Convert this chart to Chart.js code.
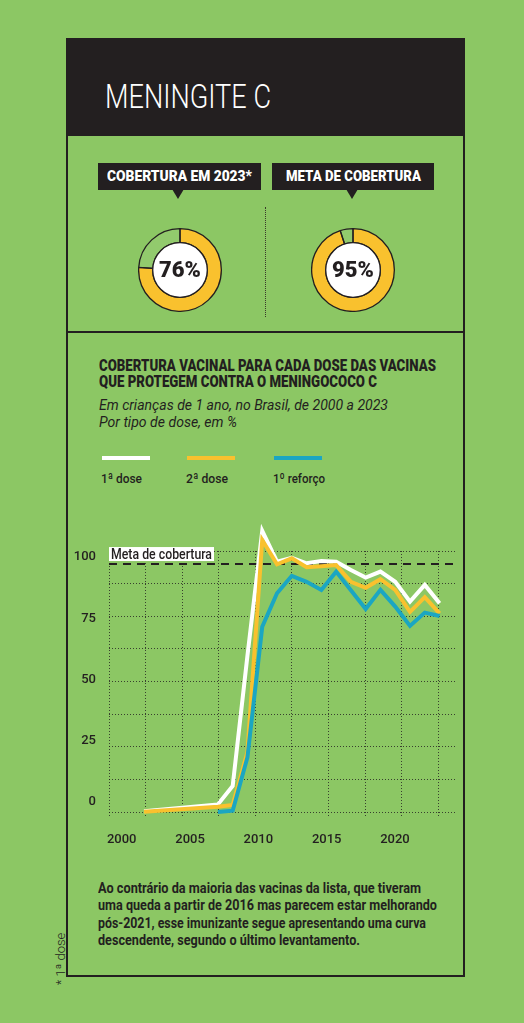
<!DOCTYPE html>
<html lang="pt-BR">
<head>
<meta charset="utf-8">
<title>Meningite C</title>
<script src="https://cdn.jsdelivr.net/npm/chart.js@4.4.1/dist/chart.umd.min.js"></script>
<style>
  html, body { margin: 0; padding: 0; }
  body {
    width: 524px; height: 1023px; position: relative; overflow: hidden;
    background: #8cc764;
    font-family: Roboto, "Noto Sans", sans-serif;
    color: #231f20;
  }
  .abs { position: absolute; }
  .linha { display: block; white-space: nowrap; transform-origin: 0 0; width: max-content; }
  #moldura { left: 66px; top: 38px; width: 399px; height: 939px; border: 2px solid #231f20; box-sizing: border-box; }
  #topo { left: 66px; top: 38px; width: 399px; height: 98px; background: #231f20; }
  #titulo { left: 105px; top: 79px; font-size: 34px; line-height: 34px; font-weight: 300; color: #fff; }
  #divisor { left: 66px; top: 331px; width: 399px; height: 2px; background: #231f20; }
  .etiqueta { top: 163px; height: 27px; background: #231f20; }
  .etiqueta .linha { position: absolute; top: 0; color: #fff; font-weight: 900; font-size: 15px; line-height: 27px; }
  .seta { top: 189px; width: 0; height: 0; border-left: 6px solid transparent; border-right: 6px solid transparent; border-top: 10px solid #231f20; }
  #separador { left: 265px; top: 207px; height: 110px; border-left: 1px dotted #3a3a2a; }
  .rosca { width: 84px; height: 84px; }
  .pct { width: 84px; text-align: center; font-weight: 900; font-size: 22px; line-height: 24px; }
  #grafTitulo { left: 99px; top: 358px; font-weight: 900; font-size: 17px; line-height: 15.6px; }
  #grafSub { left: 99px; top: 397px; font-style: italic; font-size: 15.5px; line-height: 17.3px; }
  .traco { top: 456px; width: 48px; height: 4px; }
  .leg { top: 471px; font-size: 13.5px; line-height: 14px; font-weight: 500; }
  #graf { left: 70px; top: 515px; }
  #texto { left: 98px; top: 880px; font-weight: 700; font-size: 14px; line-height: 17.3px; }
  #nota { left: 60px; top: 959px; font-size: 13px; line-height: 13px; font-weight: 300; white-space: nowrap; transform: translate(-50%, -50%) rotate(-90deg); }
</style>
</head>
<body>
<div id="moldura" class="abs"></div>
<div id="topo" class="abs"></div>
<div id="titulo" class="abs"><span class="linha" data-w="166">MENINGITE C</span></div>
<div id="divisor" class="abs"></div>

<div class="abs etiqueta" style="left:98px; width:163px;"><span class="linha" data-w="145" data-centro="1">COBERTURA EM 2023*</span></div>
<div class="abs seta" style="left:172px;"></div>
<div class="abs etiqueta" style="left:272px; width:162px;"><span class="linha" data-w="135" data-centro="1">META DE COBERTURA</span></div>
<div class="abs seta" style="left:346px;"></div>
<div id="separador" class="abs"></div>

<canvas id="roscaAtual" class="abs rosca" width="84" height="84" style="left:138px; top:228px;"></canvas>
<div id="pctAtual" class="abs pct" style="left:138px; top:258px;"></div>
<canvas id="roscaMeta" class="abs rosca" width="84" height="84" style="left:311px; top:228px;"></canvas>
<div id="pctMeta" class="abs pct" style="left:311px; top:258px;"></div>

<div id="grafTitulo" class="abs">
  <span class="linha" data-w="337">COBERTURA VACINAL PARA CADA DOSE DAS VACINAS</span>
  <span class="linha" data-w="278">QUE PROTEGEM CONTRA O MENINGOCOCO C</span>
</div>
<div id="grafSub" class="abs">
  <span class="linha" data-w="289">Em crianças de 1 ano, no Brasil, de 2000 a 2023</span>
  <span class="linha" data-w="138">Por tipo de dose, em %</span>
</div>
<div id="legenda"></div>

<canvas id="graf" class="abs" width="400" height="335"></canvas>

<div id="texto" class="abs">
  <span class="linha" data-w="323">Ao contrário da maioria das vacinas da lista, que tiveram</span>
  <span class="linha" data-w="339">uma queda a partir de 2016 mas parecem estar melhorando</span>
  <span class="linha" data-w="328">pós-2021, esse imunizante segue apresentando uma curva</span>
  <span class="linha" data-w="262">descendente, segundo o último levantamento.</span>
</div>
<div id="nota" class="abs">* 1ª dose</div>

<script>
// dados
var anos = [2000, 2001, 2002, 2003, 2004, 2005, 2006, 2007, 2008, 2009, 2010, 2011,
            2012, 2013, 2014, 2015, 2016, 2017, 2018, 2019, 2020, 2021, 2022, 2023];
var primeiraDose = [null, null, null, 0.3, null, null, null, null, 2.9, 10, 60, 107.7,
                    95.9, 97.4, 95.3, 96.2, 95.9, 92.7, 89.8, 92.1, 88.2, 80.6, 87, 80];
var segundaDose = [null, null, null, 0.1, null, null, null, null, 2.0, 2.7, 23, 104.2,
                   94.9, 97.2, 93.8, 94.2, 94.6, 88.2, 85.9, 89.2, 85.1, 76.7, 82.3, 76.1];
var primeiroReforco = [null, null, null, null, null, null, null, null, 0, 0.5, 21, 71,
                       83.8, 90.5, 88.2, 85.1, 92.1, 85, 77.8, 85.1, 78.7, 71.3, 76.4, 75.1];
var nomesSeries = ['1ª dose', '2ª dose', '1º reforço'];
var coberturaAtual = 76;
var metaCobertura = 95;
var rotulosX = [2000, 2005, 2010, 2015, 2020];
var rotulosY = [0, 25, 50, 75, 100];

var tinta = '#231f20';
var amarelo = '#f9c12e';
var cores = ['#ffffff', amarelo, '#1ba6c2'];

// legenda (traço em cima, nome embaixo)
var legendaX = [102, 187, 274];
var larguraLeg = [41, 42, 52];
var legenda = document.getElementById('legenda');
nomesSeries.forEach(function (nome, i) {
    var t = document.createElement('div');
    t.className = 'abs traco';
    t.style.left = legendaX[i] + 'px';
    t.style.background = cores[i];
    legenda.appendChild(t);
    var l = document.createElement('div');
    l.className = 'abs leg';
    l.style.left = (legendaX[i] - 1) + 'px';
    l.innerHTML = '<span class="linha" data-w="' + larguraLeg[i] + '"></span>';
    l.firstChild.textContent = nome;
    legenda.appendChild(l);
});

// encaixa cada linha de texto na largura medida no original
function encaixar() {
    document.querySelectorAll('.linha').forEach(function (el) {
        var alvo = parseFloat(el.getAttribute('data-w'));
        var w = el.getBoundingClientRect().width;
        if (!w) return;
        var s = alvo / w;
        el.style.transform = 'scaleX(' + s + ')';
        if (el.getAttribute('data-centro')) {
            var caixa = el.parentNode.clientWidth;
            el.style.left = ((caixa - alvo) / 2) + 'px';
        }
    });
}
encaixar();

// roscas de cobertura
var miolo = {
    id: 'miolo',
    afterDatasetsDraw: function (chart) {
        var arco = chart.getDatasetMeta(0).data[0];
        var ctx = chart.ctx;
        ctx.save();
        ctx.beginPath();
        ctx.arc(arco.x, arco.y, arco.innerRadius, 0, Math.PI * 2);
        ctx.fillStyle = '#ffffff';
        ctx.fill();
        ctx.lineWidth = 1.3;
        ctx.strokeStyle = tinta;
        ctx.stroke();
        ctx.restore();
    }
};

function rosca(id, valor, idTexto) {
    new Chart(document.getElementById(id), {
        type: 'doughnut',
        data: {
            labels: ['coberto', 'restante'],
            datasets: [{
                data: [valor, 100 - valor],
                backgroundColor: [amarelo, 'rgba(255,255,255,0.06)'],
                borderColor: tinta,
                borderWidth: 1.3
            }]
        },
        options: {
            responsive: false,
            animation: false,
            cutout: '66%',
            plugins: { legend: { display: false }, tooltip: { enabled: false } }
        },
        plugins: [miolo]
    });
    document.getElementById(idTexto).textContent = valor + '%';
}
rosca('roscaAtual', coberturaAtual, 'pctAtual');
rosca('roscaMeta', metaCobertura, 'pctMeta');

// linha tracejada da meta, com o rótulo em caixa branca
var linhaMeta = {
    id: 'linhaMeta',
    beforeDatasetsDraw: function (chart) {
        var ctx = chart.ctx;
        var area = chart.chartArea;
        var y = chart.scales.y.getPixelForValue(metaCobertura);
        ctx.save();
        ctx.fillStyle = '#ffffff';
        ctx.fillRect(area.left, y - 17, 105, 14);
        ctx.fillStyle = tinta;
        ctx.font = '500 14px Roboto, sans-serif';
        var texto = 'Meta de cobertura';
        var esc = 101 / ctx.measureText(texto).width;
        ctx.save();
        ctx.translate(area.left + 2, y - 5);
        ctx.scale(esc, 1);
        ctx.fillText(texto, 0, 0);
        ctx.restore();
        ctx.beginPath();
        ctx.setLineDash([8, 6]);
        ctx.lineWidth = 2;
        ctx.strokeStyle = tinta;
        ctx.moveTo(area.left, y);
        ctx.lineTo(area.right + 2, y);
        ctx.stroke();
        ctx.restore();
    }
};

function serie(valores) {
    return anos.map(function (ano, i) { return { x: ano, y: valores[i] }; });
}

var fonteEixo = { family: 'Roboto, sans-serif', size: 13, weight: '500' };
var corGrade = 'rgba(35,31,32,0.8)';

new Chart(document.getElementById('graf'), {
    type: 'line',
    data: {
        datasets: [primeiraDose, segundaDose, primeiroReforco].map(function (valores, i) {
            return {
                label: nomesSeries[i],
                data: serie(valores),
                borderColor: cores[i],
                backgroundColor: cores[i],
                borderWidth: 4,
                borderJoinStyle: 'miter',
                pointRadius: 0,
                tension: 0,
                spanGaps: true,
                clip: false,
                order: 3 - i
            };
        })
    },
    options: {
        responsive: false,
        animation: false,
        layout: { padding: { top: 36, right: 13, bottom: 6, left: 0 } },
        plugins: { legend: { display: false }, tooltip: { enabled: false } },
        scales: {
            x: {
                type: 'linear',
                position: 'bottom',
                min: 2000.63,
                max: 2024.18,
                grid: { color: corGrade, lineWidth: 1, drawTicks: true, tickLength: 6, tickBorderDash: [1, 2] },
                border: { display: false, dash: [1, 2] },
                ticks: { display: false },
                afterBuildTicks: function (eixo) {
                    var marcas = [];
                    for (var v = eixo.min; v < eixo.max - 1; v += 2.475) marcas.push({ value: v });
                    eixo.ticks = marcas;
                },
                afterFit: function (eixo) { eixo.height = 6; }
            },
            anosX: {
                type: 'linear',
                position: 'bottom',
                min: 1999.07,
                max: 2024.54,
                grid: { display: false },
                border: { display: false },
                ticks: {
                    font: fonteEixo, color: tinta, padding: 6, autoSkip: false, maxRotation: 0,
                    callback: function (v) { return String(v); }
                },
                afterBuildTicks: function (eixo) {
                    eixo.ticks = rotulosX.map(function (v) { return { value: v }; });
                },
                afterFit: function (eixo) { eixo.height = 26; }
            },
            y: {
                type: 'linear',
                position: 'left',
                min: 0,
                max: 100,
                grid: { color: corGrade, lineWidth: 1, drawTicks: false },
                border: { display: false, dash: [1, 2] },
                ticks: { display: false, stepSize: 12.5 },
                afterFit: function (eixo) { eixo.width = 0; }
            },
            valoresY: {
                type: 'linear',
                position: 'left',
                min: -4.08,
                max: 102.45,
                grid: { display: false },
                border: { display: false },
                ticks: { font: fonteEixo, color: tinta, padding: 5, autoSkip: false },
                afterBuildTicks: function (eixo) {
                    eixo.ticks = rotulosY.map(function (v) { return { value: v }; });
                },
                afterFit: function (eixo) { eixo.width = 39; }
            }
        }
    },
    plugins: [linhaMeta]
});
</script>
</body>
</html>
